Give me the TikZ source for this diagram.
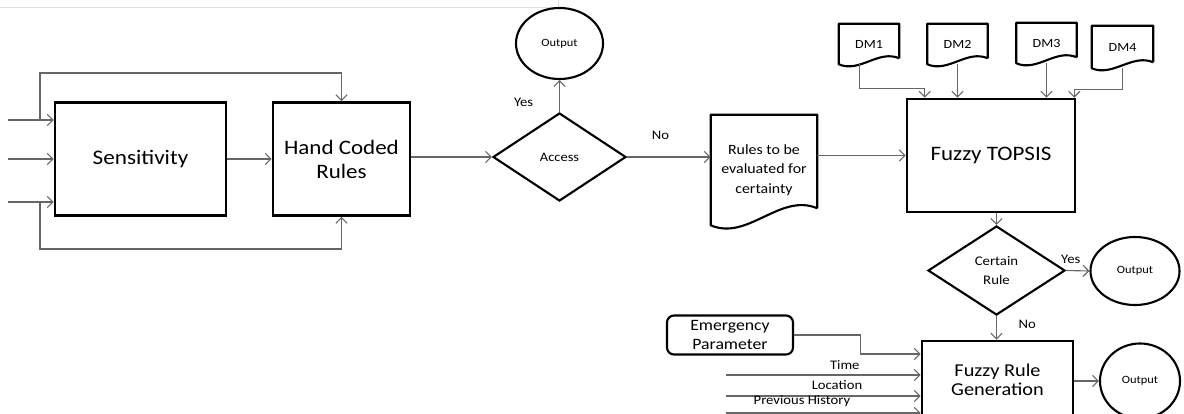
\documentclass[tikz,border=0pt]{standalone}
\usepackage{fontspec}
\setmainfont{Carlito}[FakeStretch=1.12]
\usetikzlibrary{shapes.geometric,arrows.meta,calc}

\newcommand{\wavydoc}[3]{%
    \draw[docline] ($(#1.south east)+(0,-#2)$) -- (#1.north east)
        -- (#1.north west) -- (#1.south west)
        .. controls +(0.7*#3,0.3*#3) and +(-0.7*#3,-0.3*#3) .. ($(#1.south east)+(0,-#2)$);
}

\begin{document}
\begin{tikzpicture}[
        x=0.025cm, y=-0.025cm,
        block/.style={draw, line width=1.8pt, align=center, inner sep=2pt},
        decision/.style={draw, diamond, line width=1.5pt, align=center, inner sep=0pt},
        terminal/.style={draw, ellipse, line width=1.5pt, inner sep=0pt,
            font=\fontsize{7.9}{10}\selectfont},
        docnode/.style={align=center, inner sep=0pt},
        docline/.style={line width=1.5pt, line join=round},
        flow/.style={-{Straight Barb[length=4pt,width=8pt]}, line width=0.8pt, draw=black!60},
        lbl/.style={font=\fontsize{9.3}{11}\selectfont}
    ]
            \useasboundingbox (0,0) rectangle (1184,414);
            \clip (0,0) rectangle (1184,414);

            \draw[black!12] (0,7.5) -- (558,7.5) -- (558,0);

            \node[
                block,
                minimum width=4.275cm,
                minimum height=2.825cm,
                font=\fontsize{14.7}{17}\selectfont,
                name=sens
            ] at (140.5,159) {Sensitivity};
            \node[
                block,
                minimum width=3.425cm,
                minimum height=2.825cm,
                font=\fontsize{14.6}{17}\selectfont,
                name=hand
            ] at (341.5,159) {Hand Coded\\Rules};

            \coordinate (in1) at (8,120);
            \coordinate (in2) at (8,159);
            \coordinate (in3) at (8,202);
            \coordinate (split1) at (40,120);
            \coordinate (split3) at (40,202);

            \draw[flow] (in1) -- (in1 -| sens.west);
            \draw[flow] (in2) -- (in2 -| sens.west);
            \draw[flow] (in3) -- (in3 -| sens.west);

            \draw[flow] (split1) -- ++(0,-47) -| (hand.north);
            \draw[flow] (split3) -- ++(0,47) -| (hand.south);

            \draw[flow] (sens) -- (hand);

            \node[
                decision,
                minimum width=3.325cm,
                minimum height=2.2cm,
                font=\fontsize{9.2}{12}\selectfont,
                name=access
            ] at (559.5,157) {Access};
            \node[
                terminal,
                minimum width=2.175cm,
                minimum height=1.775cm,
                name=out1
            ] at (559.5,43.5) {Output};

            \draw[flow] (hand.east |- access) -- (access);
            \draw[flow] (access.north) -- (out1.south)
                node[lbl, pos=0.3, left=15pt] {Yes};

            \node[
                docnode,
                minimum width=2.65cm,
                minimum height=2.75cm,
                font=\fontsize{10.1}{14}\selectfont,
                name=rules
            ] at (764,170) {Rules to be\\evaluated for\\certainty};
            \wavydoc{rules}{17}{53}

            \draw[flow] (access.east) -- (access.east -| rules.west)
                node[lbl, pos=0.4, above=9pt] {No};

            \node[
                block,
                minimum width=4.2cm,
                minimum height=2.825cm,
                font=\fontsize{14.6}{17}\selectfont,
                name=topsis
            ] at (991,155.5) {Fuzzy TOPSIS};

            \draw[flow] (rules.east |- topsis.west) -- (topsis.west);

            \node[docnode, minimum width=1.5cm, minimum height=1cm,
                font=\fontsize{8.9}{11}\selectfont, name=dm1] at (869,44) {DM1};
            \node[docnode, minimum width=1.5cm, minimum height=1cm,
                font=\fontsize{8.9}{11}\selectfont, name=dm2] at (957.5,44) {DM2};
            \node[docnode, minimum width=1.5cm, minimum height=1cm,
                font=\fontsize{8.9}{11}\selectfont, name=dm3] at (1046.5,43) {DM3};
            \node[docnode, minimum width=1.525cm, minimum height=1.05cm,
                font=\fontsize{8.9}{11}\selectfont, name=dm4] at (1122.5,47) {DM4};
            \wavydoc{dm1}{6}{30}
            \wavydoc{dm2}{6}{30}
            \wavydoc{dm3}{6}{30}
            \wavydoc{dm4}{6}{30}

            \coordinate (dmin1) at ($(topsis.north west)+(19,0)$);
            \coordinate (dmin4) at ($(topsis.north east)+(-2,0)$);

            \draw[flow] ([xshift=-7pt]dm1.south) -- ++(0,24) -| (dmin1);
            \draw[flow] (dm2.south) -- (dm2.south |- topsis.north);
            \draw[flow] (dm3.south) -- (dm3.south |- topsis.north);
            \draw[flow] (dm4.south) -- ++(0,21) -| (dmin4);

            \node[
                decision,
                minimum width=3.425cm,
                minimum height=2.225cm,
                font=\fontsize{9.4}{13}\selectfont,
                name=certain
            ] at (996.5,270.5) {Certain\\Rule};
            \node[
                terminal,
                minimum width=2.225cm,
                minimum height=1.7cm,
                name=out2
            ] at (1135,271) {Output};

            \draw[flow] (certain.north |- topsis.south) -- (certain.north);
            \draw[flow] (certain.east) -- (out2.west)
                node[lbl, pos=0.2, above=1pt] {Yes};

            \node[
                block,
                minimum width=3.775cm,
                minimum height=1.925cm,
                font=\fontsize{12.9}{13.5}\selectfont,
                name=frg
            ] at (997.5,379.5) {Fuzzy Rule\\Generation};
            \node[
                terminal,
                minimum width=2cm,
                minimum height=1.875cm,
                name=out3
            ] at (1140,381) {Output};

            \draw[flow] (certain.south) -- (certain.south |- frg.north)
                node[lbl, pos=0.35, right=12pt] {No};
            \draw[flow] (frg.east |- out3.west) -- (out3.west);

            \node[
                draw,
                rounded corners=5pt,
                line width=1.5pt,
                align=center,
                minimum width=3.15cm,
                minimum height=0.975cm,
                inner sep=1pt,
                font=\fontsize{11.25}{13}\selectfont,
                name=emerg
            ] at (730,335) {Emergency\\Parameter};

            \coordinate (emergin) at (frg.west |- 0,354);
            \coordinate (tin) at (726,375);
            \coordinate (lin) at (726,396);
            \coordinate (hin) at (726,413);

            \draw[flow] (emerg.east) -- ++(66,0) |- (emergin);
            \draw[flow] (tin) -- (tin -| frg.west)
                node[lbl, pos=0.61, above=0pt] {Time};
            \draw[flow] (lin) -- (lin -| frg.west)
                node[lbl, pos=0.57, above=1pt] {Location};
            \draw[flow] (hin) -- (hin -| frg.west)
                node[lbl, pos=0.39, above=1pt] {Previous History};
        \end{tikzpicture}
\end{document}
